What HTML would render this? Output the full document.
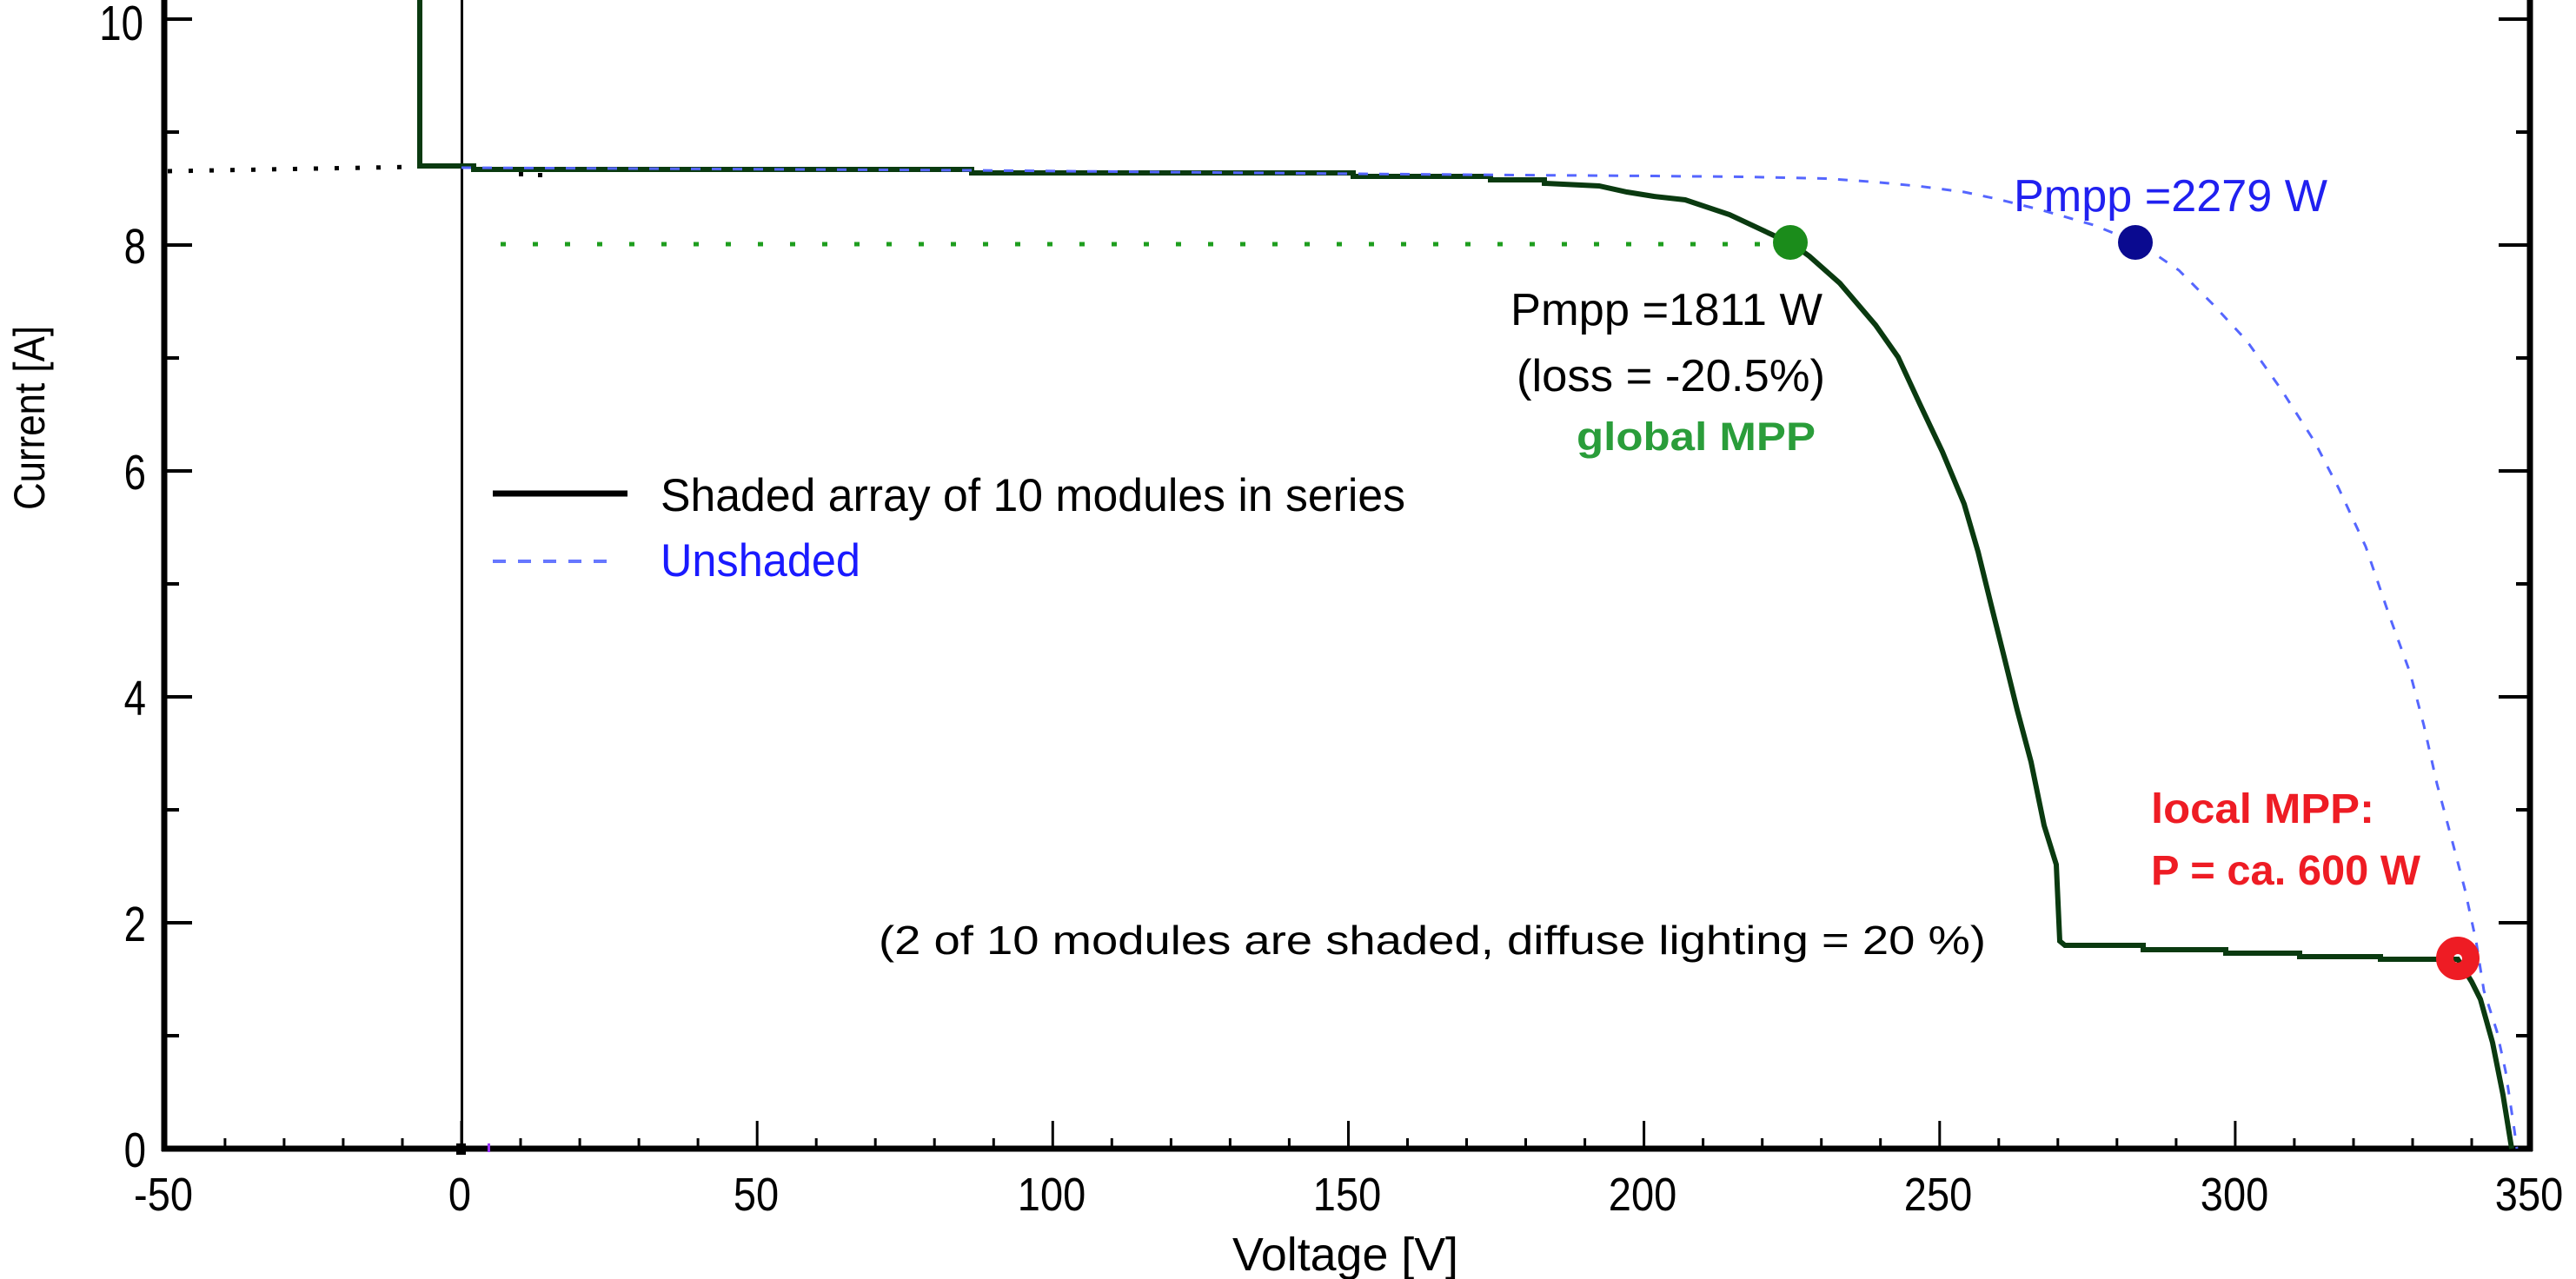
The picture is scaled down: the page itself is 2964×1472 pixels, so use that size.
<!DOCTYPE html>
<html>
<head>
<meta charset="utf-8">
<style>
  html,body{margin:0;padding:0;background:#fff;}
  svg{display:block;}
</style>
</head>
<body>
<svg xmlns="http://www.w3.org/2000/svg" width="2964" height="1472" viewBox="0 0 2964 1472">
  <rect x="0" y="0" width="2964" height="1472" fill="#ffffff"/>

  <!-- zero voltage vertical line -->
  <line x1="531.5" y1="0" x2="531.5" y2="1322" stroke="#000" stroke-width="3"/>

  <!-- axes -->
  <g stroke="#000" stroke-width="7" fill="none">
    <line x1="189" y1="0" x2="189" y2="1325"/>
    <line x1="2911" y1="0" x2="2911" y2="1325"/>
    <line x1="186" y1="1322" x2="2914" y2="1322"/>
  </g>

  <!-- bottom ticks -->
  <path stroke="#000" stroke-width="3" fill="none" d="
    M191,1322V1290 M258.9,1322V1310 M326.9,1322V1310 M394.9,1322V1310 M463,1322V1310
    M531,1322V1290 M599,1322V1310 M667.1,1322V1310 M735.1,1322V1310 M803.1,1322V1310
    M871.2,1322V1290 M939.2,1322V1310 M1007.2,1322V1310 M1075.2,1322V1310 M1143.3,1322V1310
    M1211.3,1322V1290 M1279.3,1322V1310 M1347.4,1322V1310 M1415.4,1322V1310 M1483.4,1322V1310
    M1551.5,1322V1290 M1619.5,1322V1310 M1687.5,1322V1310 M1755.5,1322V1310 M1823.6,1322V1310
    M1891.6,1322V1290 M1959.6,1322V1310 M2027.7,1322V1310 M2095.7,1322V1310 M2163.7,1322V1310
    M2231.8,1322V1290 M2299.8,1322V1310 M2367.8,1322V1310 M2435.8,1322V1310 M2503.9,1322V1310
    M2571.9,1322V1290 M2639.9,1322V1310 M2708,1322V1310 M2776,1322V1310 M2844,1322V1310
    M2912,1322V1290"/>

  <!-- left ticks -->
  <path stroke="#000" stroke-width="4" fill="none" d="
    M189,1322H221 M189,1192H206 M189,1062H221 M189,932H206 M189,802H221 M189,672H206
    M189,542H221 M189,412H206 M189,282H221 M189,152H206 M189,22H221"/>
  <!-- right ticks -->
  <path stroke="#000" stroke-width="4" fill="none" d="
    M2911,1322H2875 M2911,1192H2895 M2911,1062H2875 M2911,932H2895 M2911,802H2875 M2911,672H2895
    M2911,542H2875 M2911,412H2895 M2911,282H2875 M2911,152H2895 M2911,22H2875"/>

  <!-- small marks on axis -->
  <rect x="525" y="1316" width="11" height="13" fill="#000"/>
  <rect x="561" y="1316" width="3" height="10" fill="#9a30ff"/>

  <!-- black dotted reference line (left) -->
  <line x1="193" y1="197" x2="478" y2="192" stroke="#000" stroke-width="5" stroke-dasharray="5 19"/>
  <rect x="597" y="198" width="5" height="5" fill="#000"/>
  <rect x="619" y="199" width="5" height="5" fill="#000"/>

  <!-- green dotted line to global MPP -->
  <line x1="576" y1="281" x2="2040" y2="281" stroke="#1e9e1e" stroke-width="5" stroke-dasharray="6 31"/>

  <!-- shaded array curve -->
  <path fill="none" stroke="#0a3a10" stroke-width="6" stroke-linejoin="miter" d="
    M483,-5 L483,191 L545,191 L545,195 L1118,195 L1118,199 L1557,199 L1557,203 L1715,203 L1715,207
    L1777,207 L1777,211 L1840,214 L1872,221 L1903,226 L1939,230 L1990,247 L2041,271 L2060,279
    L2082,295 L2117,326 L2158,374 L2184,411 L2209,465 L2235,520 L2260,580 L2276,635 L2291,696
    L2306,756 L2321,817 L2337,877 L2352,950 L2366,995 L2370,1083 L2376,1088 L2466,1088 L2466,1093
    L2561,1093 L2561,1097 L2646,1097 L2646,1101 L2739,1101 L2739,1104 L2828,1104 L2844,1130
    L2854,1150 L2868,1200 L2880,1260 L2890,1322"/>

  <!-- unshaded curve (dashed) -->
  <path fill="none" stroke="#5566ff" stroke-width="3" stroke-dasharray="11 13" d="
    M531,193 L1118,196 L1557,200 L1750,201.5 L1900,202.5 L2005,203.5 L2100,205.5 L2158,209.5
    L2210,214.5 L2260,221 L2298,229 L2350,242 L2409,259 L2456,278 L2479,292 L2507,311 L2546,350
    L2585,392 L2624,447 L2663,508 L2691,562 L2722,629 L2749,708 L2773,774 L2789,835 L2804,902
    L2820,962 L2836,1023 L2849,1083 L2858,1140 L2873,1187 L2883,1233 L2893,1300 L2896,1322"/>

  <!-- markers -->
  <circle cx="2060" cy="279" r="20" fill="#1b8c1b"/>
  <circle cx="2457" cy="279" r="20" fill="#0a0a90"/>
  <circle cx="2828" cy="1103" r="15" fill="none" stroke="#ee1c24" stroke-width="20"/>

  <!-- legend -->
  <line x1="567" y1="568" x2="722" y2="568" stroke="#000" stroke-width="7"/>
  <line x1="567" y1="646" x2="712" y2="646" stroke="#6677ff" stroke-width="4" stroke-dasharray="15 14"/>

  <g font-family="'Liberation Sans', Arial, sans-serif" fill="#000">
    <text x="760" y="588" font-size="53" textLength="857" lengthAdjust="spacingAndGlyphs">Shaded array of 10 modules in series</text>
    <text x="760" y="663" font-size="53" fill="#1a1aff" textLength="230" lengthAdjust="spacingAndGlyphs">Unshaded</text>

    <!-- y tick labels -->
    <text transform="translate(168,1343) scale(0.8,1)" text-anchor="end" font-size="57">0</text>
    <text transform="translate(168,1083) scale(0.8,1)" text-anchor="end" font-size="57">2</text>
    <text transform="translate(168,823) scale(0.8,1)" text-anchor="end" font-size="57">4</text>
    <text transform="translate(168,563) scale(0.8,1)" text-anchor="end" font-size="57">6</text>
    <text transform="translate(168,303) scale(0.8,1)" text-anchor="end" font-size="57">8</text>
    <text transform="translate(165,46) scale(0.8,1)" text-anchor="end" font-size="57">10</text>

    <!-- x tick labels -->
    <text transform="translate(188,1393) scale(0.87,1)" text-anchor="middle" font-size="54">-50</text>
    <text transform="translate(529,1393) scale(0.87,1)" text-anchor="middle" font-size="54">0</text>
    <text transform="translate(870,1393) scale(0.87,1)" text-anchor="middle" font-size="54">50</text>
    <text transform="translate(1210,1393) scale(0.87,1)" text-anchor="middle" font-size="54">100</text>
    <text transform="translate(1550,1393) scale(0.87,1)" text-anchor="middle" font-size="54">150</text>
    <text transform="translate(1890,1393) scale(0.87,1)" text-anchor="middle" font-size="54">200</text>
    <text transform="translate(2230,1393) scale(0.87,1)" text-anchor="middle" font-size="54">250</text>
    <text transform="translate(2571,1393) scale(0.87,1)" text-anchor="middle" font-size="54">300</text>
    <text transform="translate(2910,1393) scale(0.87,1)" text-anchor="middle" font-size="54">350</text>

    <!-- axis titles -->
    <text x="1548" y="1462" text-anchor="middle" font-size="54" textLength="260" lengthAdjust="spacingAndGlyphs">Voltage [V]</text>
    <text transform="translate(51,481) rotate(-90)" text-anchor="middle" font-size="50" textLength="212" lengthAdjust="spacingAndGlyphs">Current [A]</text>

    <!-- annotations -->
    <text x="2317" y="243" font-size="52" fill="#2020f0" textLength="361" lengthAdjust="spacingAndGlyphs">Pmpp =2279 W</text>
    <text x="1738" y="374" font-size="52" textLength="359" lengthAdjust="spacingAndGlyphs">Pmpp =1811 W</text>
    <text x="1745" y="450" font-size="52" textLength="355" lengthAdjust="spacingAndGlyphs">(loss = -20.5%)</text>
    <text x="1814" y="518" font-size="45" font-weight="bold" fill="#2a9d3a" textLength="275" lengthAdjust="spacingAndGlyphs">global MPP</text>
    <text x="2475" y="947" font-size="48" font-weight="bold" fill="#ee1c24" textLength="257" lengthAdjust="spacingAndGlyphs">local MPP:</text>
    <text x="2475" y="1018" font-size="48" font-weight="bold" fill="#ee1c24" textLength="310" lengthAdjust="spacingAndGlyphs">P = ca. 600 W</text>
    <text x="1011" y="1098" font-size="46" textLength="1274" lengthAdjust="spacingAndGlyphs">(2 of 10 modules are shaded, diffuse lighting = 20 %)</text>
  </g>
</svg>
</body>
</html>
